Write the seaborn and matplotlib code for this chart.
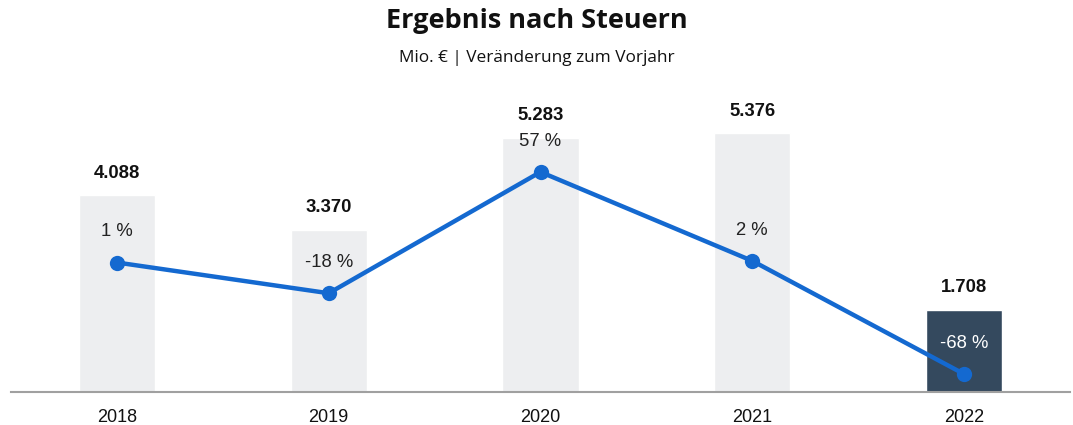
import matplotlib
matplotlib.use("Agg")
import pandas as pd
import seaborn as sns
import matplotlib.pyplot as plt

jahre = ["2018", "2019", "2020", "2021", "2022"]
ergebnis = [4088, 3370, 5283, 5376, 1708]
veraenderung = [1, -18, 57, 2, -68]
ergebnis_labels = ["4.088", "3.370", "5.283", "5.376", "1.708"]
veraenderung_labels = ["1 %", "-18 %", "57 %", "2 %", "-68 %"]

df = pd.DataFrame({"Jahr": jahre, "Ergebnis": ergebnis, "Veraenderung": veraenderung})

sns.set_style("white")
plt.rcParams["font.family"] = ["Liberation Sans", "DejaVu Sans"]

fig = plt.figure(figsize=(10.73, 4.25), dpi=100)
ax = fig.add_axes([11 / 1073, 33 / 425, 1059 / 1073, 312 / 425])

farben = ["#edeef0"] * 4 + ["#34495e"]
sns.barplot(data=df, x="Jahr", y="Ergebnis", hue="Jahr", palette=farben,
            width=0.36, legend=False, ax=ax, saturation=1)
ax.set_xlim(-0.5, 4.5)
ax.set_ylim(0, 6477)
ax.set_xlabel("")
ax.set_ylabel("")
ax.set_yticks([])
for s in ["top", "left", "right"]:
    ax.spines[s].set_visible(False)
ax.spines["bottom"].set_color("#a0a0a0")
ax.spines["bottom"].set_linewidth(1.5)
ax.tick_params(axis="x", length=0, labelsize=13, pad=12, colors="#111111")

for i, (v, lab) in enumerate(zip(ergebnis, ergebnis_labels)):
    ax.annotate(lab, (i, v), xytext=(0, 15.8), textcoords="offset points",
                ha="center", va="center", fontsize=13.3, fontweight="bold", color="#111111")

ax2 = ax.twinx()
sns.lineplot(x=range(len(jahre)), y=veraenderung, ax=ax2, color="#1469d0",
             linewidth=3.2, marker="o", markersize=11, markeredgewidth=0)
ax2.set_ylim(-79.1, 113.9)
ax2.set_xlim(-0.5, 4.5)
ax2.set_yticks([])
ax2.axis("off")

for i, (v, lab) in enumerate(zip(veraenderung, veraenderung_labels)):
    farbe = "white" if i == len(jahre) - 1 else "#222222"
    ax2.annotate(lab, (i, v), xytext=(0, 22), textcoords="offset points",
                 ha="center", va="center", fontsize=13.3, color=farbe)

fig.text(0.5, 1 - 21 / 425, "Ergebnis nach Steuern", ha="center", va="center",
         fontsize=19.5, fontweight="bold", family="Open Sans", color="#111111")
fig.text(0.5, 1 - 58 / 425, "Mio. € | Veränderung zum Vorjahr", ha="center", va="center",
         fontsize=12.4, family="Open Sans", color="#111111")

fig.savefig("out.png", dpi=100)
